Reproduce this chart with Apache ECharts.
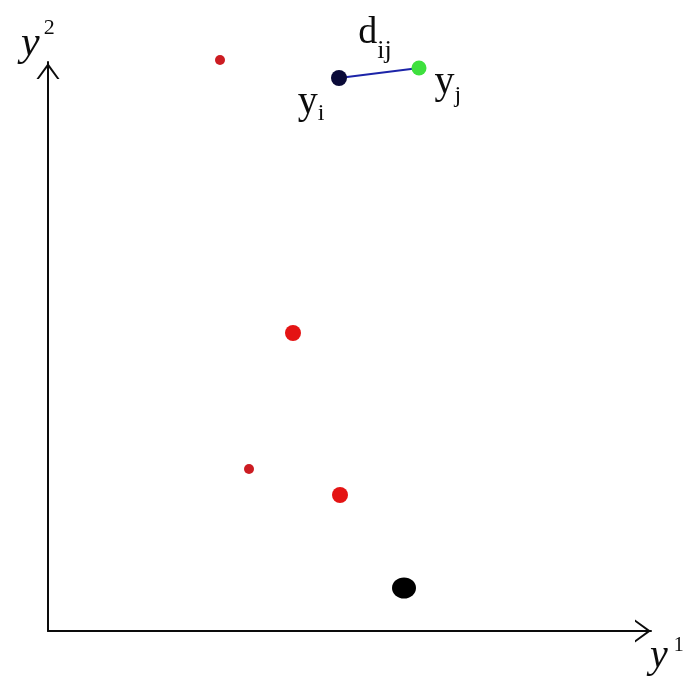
<!DOCTYPE html>
<html>
<head>
<meta charset="utf-8">
<script src="https://cdn.jsdelivr.net/npm/echarts@6/dist/echarts.min.js"></script>
<style>
  html, body { margin: 0; padding: 0; background: #fff; }
  #chart { width: 683px; height: 676px; }
</style>
</head>
<body>
<div id="chart"></div>
<script>
// axis extents (arbitrary units, roughly pixels)
var xMax = 603;
var yMax = 569;

// points
var redSmall = [[172, 571], [201, 162]];
var redLarge = [[245, 298], [292, 136]];
var blackPoint = [[356, 43]];
var yi = [291, 553];
var yj = [371, 563];

var chart = echarts.init(document.getElementById('chart'));
var serif = '"Liberation Serif", "DejaVu Serif", serif';
var chevron = 'path://M0,14 L10,0 L20,14 L18,14 L10,3 L2,14 Z';
var mid = [(yi[0] + yj[0]) / 2, (yi[1] + yj[1]) / 2];
var ink = '#0c0c0c';

// big letter + lowered subscript
function subRich(big, small, drop) {
    return {
        b: { fontFamily: serif, fontSize: big, color: ink, verticalAlign: 'top', padding: [0, 0, drop, 0] },
        s: { fontFamily: serif, fontSize: small, color: ink, verticalAlign: 'bottom' }
    };
}

var option = {
    backgroundColor: '#fff',
    animation: false,
    grid: { left: 48, right: 32, top: 62, bottom: 45 },
    xAxis: {
        type: 'value', min: 0, max: xMax,
        axisLine: {
            show: true,
            lineStyle: { color: ink, width: 2 },
            symbol: ['none', chevron],
            symbolSize: [28, 16],
            symbolOffset: [0, -8]
        },
        axisTick: { show: false }, axisLabel: { show: false }, splitLine: { show: false }
    },
    yAxis: {
        type: 'value', min: 0, max: yMax,
        axisLine: {
            show: true,
            lineStyle: { color: ink, width: 2 },
            symbol: ['none', chevron],
            symbolSize: [23, 19],
            symbolOffset: [0, -9]
        },
        axisTick: { show: false }, axisLabel: { show: false }, splitLine: { show: false }
    },
    graphic: [
        {
            type: 'text', left: 21, top: 17,
            style: {
                text: '{y|y}{s|2}',
                rich: {
                    y: { fontFamily: serif, fontStyle: 'italic', fontSize: 42, fill: ink, verticalAlign: 'bottom', padding: [6, 0, 0, 0] },
                    s: { fontFamily: serif, fontSize: 22, fill: ink, verticalAlign: 'top', padding: [0, 0, 0, 4] }
                }
            }
        },
        {
            type: 'text', left: 650, top: 636,
            style: {
                text: '{y|y}{s|1}',
                rich: {
                    y: { fontFamily: serif, fontStyle: 'italic', fontSize: 40, fill: ink },
                    s: { fontFamily: serif, fontSize: 20, fill: ink, verticalAlign: 'top', padding: [0, 0, 0, 6] }
                }
            }
        }
    ],
    series: [
        {
            type: 'line', data: [yi, yj], showSymbol: false, silent: true,
            lineStyle: { color: '#1c24a8', width: 2 }, z: 2
        },
        {
            type: 'scatter', data: [mid], symbolSize: 0, silent: true,
            itemStyle: { opacity: 1 },
            label: {
                show: true, position: 'top', distance: 9, offset: [-4, 0],
                formatter: '{b|d}{s|ij}',
                rich: subRich(38, 26, 12)
            }
        },
        {
            type: 'scatter', data: redSmall, symbolSize: 10, clip: false,
            itemStyle: { color: '#cc1c22', opacity: 1 }
        },
        {
            type: 'scatter', data: redLarge, symbolSize: 16, clip: false,
            itemStyle: { color: '#e41414', opacity: 1 }
        },
        {
            type: 'scatter', data: blackPoint, symbol: 'circle', symbolSize: [24, 21], clip: false,
            itemStyle: { color: '#000', opacity: 1 }
        },
        {
            type: 'scatter', data: [yi], symbolSize: 16, clip: false, z: 3,
            itemStyle: { color: '#0a0a38', opacity: 1 },
            label: {
                show: true, position: 'bottom', distance: 0, offset: [-28, -4],
                formatter: '{b|y}{s|i}',
                rich: subRich(40, 24, 4)
            }
        },
        {
            type: 'scatter', data: [yj], symbolSize: 15, clip: false, z: 3,
            itemStyle: { color: '#3ee03e', opacity: 1 },
            label: {
                show: true, position: 'right', distance: 8, offset: [0, 17],
                formatter: '{b|y}{s|j}',
                rich: subRich(40, 24, 6)
            }
        }
    ]
};

chart.setOption(option);
</script>
</body>
</html>
